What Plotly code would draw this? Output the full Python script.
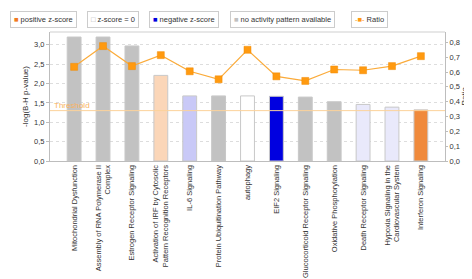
import plotly.graph_objects as go

categories = [
    "Mitochondrial Dysfunction",
    "Assembly of RNA Polymerase II<br>Complex",
    "Estrogen Receptor Signaling",
    "Activation of IRF by Cytosolic<br>Pattern Recognition Receptors",
    "IL-6 Signaling",
    "Protein Ubiquitination Pathway",
    "autophagy",
    "EIF2 Signaling",
    "Glucocorticoid Receptor Signaling",
    "Oxidative Phosphorylation",
    "Death Receptor Signaling",
    "Hypoxia Signaling in the<br>Cardiovascular System",
    "Interferon Signaling",
]
neg_log_p = [3.20, 3.20, 2.97, 2.21, 1.68, 1.68, 1.68, 1.67, 1.65, 1.53, 1.46, 1.39, 1.32]
ratio = [0.635, 0.775, 0.64, 0.714, 0.605, 0.551, 0.75, 0.571, 0.54, 0.617, 0.612, 0.64, 0.707]
bar_colors = ["#c2c2c2", "#c2c2c2", "#c2c2c2", "#fbd6b8", "#c9c9f7", "#c2c2c2", "#ffffff",
              "#0000e0", "#c2c2c2", "#c2c2c2", "#e9e9fb", "#e9e9fb", "#f08a3c"]
threshold = 1.3

FONT = "Liberation Sans, Arial, sans-serif"
PLOT_W = 472 - 42 - 35

fig = go.Figure()
fig.add_trace(go.Bar(
    x=categories, y=neg_log_p,
    marker=dict(color=bar_colors, line=dict(color="#c8c8c8", width=1)),
    width=0.48, yaxis="y", showlegend=False,
))
fig.add_trace(go.Scatter(
    x=categories, y=ratio, yaxis="y2", mode="lines+markers",
    line=dict(color="#fbab3a", width=1.2),
    marker=dict(symbol="square", size=7, color="#ff9a10", line=dict(color="#f08a00", width=0.5)),
    showlegend=False,
))

fig.add_shape(type="line", xref="paper", yref="y", x0=0, x1=1, y0=threshold, y1=threshold,
              line=dict(color="#fcd29a", width=1))
fig.add_annotation(xref="paper", yref="y", x=0.005, y=threshold, text="Threshold",
                   showarrow=False, xanchor="left", yanchor="bottom", yshift=-1,
                   font=dict(family=FONT, size=8, color="#f9b25c"))

# plot border on top
fig.add_shape(type="line", xref="paper", yref="paper", x0=0, x1=1, y0=1, y1=1,
              line=dict(color="#cfcfcf", width=1))

# legend boxes
legend_items = [
    ('<span style="color:#f07820">■</span> positive z-score', 2),
    ('<span style="color:#b0b0b0">□</span> z-score = 0', 79),
    ('<span style="color:#0000e0">■</span> negative z-score', 141),
    ('<span style="color:#c0c0c0">■</span> no activity pattern available', 222),
    ('<span style="color:#ff9a10">-■-</span> Ratio', 343),
]
for txt, px in legend_items:
    fig.add_annotation(xref="paper", yref="paper", x=(px - 42) / PLOT_W, y=(153 - 11.5) / 129,
                       text=txt, showarrow=False, xanchor="left", yanchor="middle",
                       bordercolor="#cccccc", borderwidth=1, borderpad=3, bgcolor="white",
                       font=dict(family=FONT, size=7.5, color="#333"))

fig.update_layout(
    width=472, height=279,
    margin=dict(l=42, r=35, t=24, b=126),
    paper_bgcolor="white", plot_bgcolor="white",
    separators=",.",
    bargap=0.5,
    xaxis=dict(
        tickangle=-90, tickfont=dict(family=FONT, size=7.5, color="#333"),
        showline=True, linecolor="#bdbdbd", linewidth=1, ticks="", showgrid=False,
        automargin=False,
    ),
    yaxis=dict(
        title=dict(text="-log(B-H p-value)", font=dict(family=FONT, size=8, color="#333"),
                   standoff=4),
        range=[0, 3.33], tickvals=[0, 0.5, 1, 1.5, 2, 2.5, 3], tickformat=".1f",
        tickfont=dict(family=FONT, size=7.5, color="#333"),
        showline=True, linecolor="#bdbdbd", linewidth=1, ticks="outside", ticklen=3,
        tickcolor="#bdbdbd", automargin=False,
        showgrid=True, gridcolor="#dddddd", griddash="dot", zeroline=False,
    ),
    yaxis2=dict(
        title=dict(text="Ratio", font=dict(family=FONT, size=8, color="#333"), standoff=0),
        range=[0, 0.87], tickvals=[0, 0.1, 0.2, 0.3, 0.4, 0.5, 0.6, 0.7, 0.8], tickformat=".1f",
        overlaying="y", side="right",
        tickfont=dict(family=FONT, size=7.5, color="#333"),
        showline=True, linecolor="#bdbdbd", linewidth=1, ticks="outside", ticklen=2,
        tickcolor="#bdbdbd", automargin=False,
        showgrid=False, zeroline=False,
    ),
)

fig.write_html("out.html")
